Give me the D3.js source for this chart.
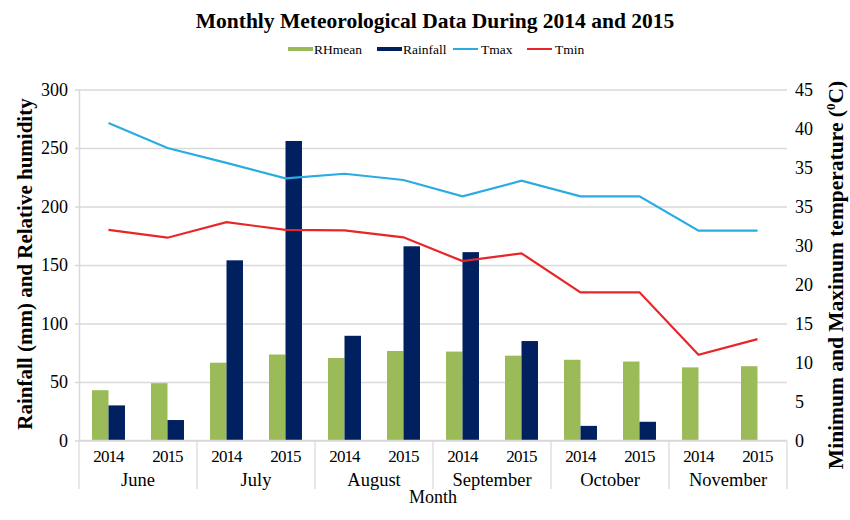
<!DOCTYPE html>
<html>
<head>
<meta charset="utf-8">
<script src="https://cdn.jsdelivr.net/npm/d3@7"></script>
<style>
  body { margin: 0; background: #fff; }
  svg text { font-family: "Liberation Serif", "Times New Roman", serif; fill: #000; }
</style>
</head>
<body>
<script>
// data
var months = ['June', 'July', 'August', 'September', 'October', 'November'];
var years = ['2014', '2015'];
var rhMean = [43, 49, 66.5, 73.5, 70.5, 76.5, 76, 72.5, 69, 67.5, 62.5, 63.5];
var rainfall = [30, 17.5, 154, 256, 89.5, 166, 161, 85, 12.5, 16, 0, 0];
var tMax = [40.7, 37.5, 35.6, 33.6, 34.2, 33.4, 31.3, 33.3, 31.3, 31.3, 26.9, 26.9];
var tMin = [27.0, 26.0, 28.0, 27.0, 26.95, 26.05, 23.0, 24.0, 19.0, 19.0, 11.0, 13.0];
var leftTicks = [0, 50, 100, 150, 200, 250, 300];
var rightTickLabels = ['0', '5', '10', '15', '20', '30', '35', '35', '40', '45'];

var W = 850, H = 520;
var mLeft = 79, mRight = 787, mTop = 89.5, mBottom = 440.5;
var serif = '"Liberation Serif", "Times New Roman", serif';

var svg = d3.select('body').append('svg')
  .attr('width', W)
  .attr('height', H)
  .attr('font-family', serif);

var keys = [];
months.forEach(function(m) { years.forEach(function(y) { keys.push(m + '|' + y); }); });

var rows = keys.map(function(k, i) {
  return { key: k, month: k.split('|')[0], year: k.split('|')[1],
           RHmean: rhMean[i], Rainfall: rainfall[i], Tmax: tMax[i], Tmin: tMin[i] };
});

var x = d3.scaleBand().domain(keys).range([mLeft, mRight]).padding(0);
var xm = d3.scaleBand().domain(months).range([mLeft, mRight]).padding(0);
var xs = d3.scaleBand().domain(['RHmean', 'Rainfall']).range([0, x.bandwidth()])
  .paddingInner(0).paddingOuter(0.79);

var y = d3.scaleLinear().domain([0, 300]).range([mBottom, mTop]);
var yR = d3.scaleLinear().domain([0, 45]).range([mBottom, mTop]);

var colors = { RHmean: '#9bbb59', Rainfall: '#002060', Tmax: '#2aabe2', Tmin: '#e8262a' };

// gridlines + left axis
var gl = svg.append('g').attr('transform', 'translate(' + mLeft + ',0)')
  .call(d3.axisLeft(y).tickValues(leftTicks).tickSize(4).tickSizeOuter(0).tickPadding(7))
  .attr('font-family', serif).attr('font-size', 18);
gl.select('.domain').attr('stroke', '#d9d9d9').attr('stroke-width', 1.5);
gl.selectAll('.tick line').attr('stroke', '#d9d9d9').attr('stroke-width', 1.5)
  .attr('x1', -4).attr('x2', mRight - mLeft);

// right axis labels
var gr = svg.append('g').attr('transform', 'translate(' + mRight + ',0)')
  .call(d3.axisRight(yR).tickValues(d3.range(0, 46, 5))
    .tickFormat(function(d, i) { return rightTickLabels[i]; })
    .tickSize(0).tickPadding(8))
  .attr('font-family', serif).attr('font-size', 18);
gr.select('.domain').remove();

// bars
var groups = svg.append('g').selectAll('g').data(rows).enter().append('g')
  .attr('transform', function(d) { return 'translate(' + x(d.key) + ',0)'; });
groups.selectAll('rect')
  .data(function(d) { return ['RHmean', 'Rainfall'].map(function(s) { return { s: s, v: d[s] }; }); })
  .enter().append('rect')
  .attr('x', function(d) { return xs(d.s); })
  .attr('width', xs.bandwidth())
  .attr('y', function(d) { return y(d.v); })
  .attr('height', function(d) { return mBottom - y(d.v); })
  .attr('fill', function(d) { return colors[d.s]; });

// lines
['Tmax', 'Tmin'].forEach(function(s) {
  var line = d3.line()
    .x(function(d) { return x(d.key) + x.bandwidth() / 2; })
    .y(function(d) { return yR(d[s]); });
  svg.append('path').datum(rows)
    .attr('d', line)
    .attr('fill', 'none')
    .attr('stroke', colors[s])
    .attr('stroke-width', 2.2);
});

// x axis: base line, years, months
svg.append('line').attr('x1', mLeft).attr('x2', mRight).attr('y1', mBottom).attr('y2', mBottom)
  .attr('stroke', '#d9d9d9').attr('stroke-width', 1.5);

svg.append('g').selectAll('text').data(rows).enter().append('text')
  .attr('x', function(d) { return x(d.key) + x.bandwidth() / 2; })
  .attr('y', 461.5)
  .attr('text-anchor', 'middle')
  .style('font-size', '17px')
  .style('letter-spacing', '-0.9px')
  .text(function(d) { return d.year; });

svg.append('g').selectAll('line').data(d3.range(months.length + 1)).enter().append('line')
  .attr('x1', function(i) { return mLeft + i * xm.step(); })
  .attr('x2', function(i) { return mLeft + i * xm.step(); })
  .attr('y1', mBottom)
  .attr('y2', 489)
  .attr('stroke', '#d9d9d9')
  .attr('stroke-width', 1.2);

svg.append('g').selectAll('text').data(months).enter().append('text')
  .attr('x', function(d) { return xm(d) + xm.bandwidth() / 2; })
  .attr('y', 486)
  .attr('text-anchor', 'middle')
  .style('font-size', '18.5px')
  .text(function(d) { return d; });

svg.append('text').attr('x', 433).attr('y', 503).attr('text-anchor', 'middle')
  .style('font-size', '18px').text('Month');

// title
svg.append('text').attr('x', 435).attr('y', 28).attr('text-anchor', 'middle')
  .style('font-size', '21.5px').style('font-weight', 'bold')
  .text('Monthly Meteorological Data During 2014 and 2015');

// axis titles
svg.append('text')
  .attr('transform', 'translate(32,264) rotate(-90)')
  .attr('text-anchor', 'middle')
  .style('font-size', '21px').style('font-weight', 'bold')
  .text('Rainfall (mm) and Relative humidity');

var rt = svg.append('text')
  .attr('transform', 'translate(843,275) rotate(-90)')
  .attr('text-anchor', 'middle')
  .style('font-size', '21.5px').style('font-weight', 'bold');
rt.append('tspan').text('Minimum and Maxinum temperature (');
rt.append('tspan').attr('dy', -8).style('font-size', '13px').text('0');
rt.append('tspan').attr('dy', 8).text('C)');

// legend
var legend = [
  { name: 'RHmean', type: 'bar', x: 288 },
  { name: 'Rainfall', type: 'bar', x: 377 },
  { name: 'Tmax', type: 'line', x: 453 },
  { name: 'Tmin', type: 'line', x: 527 }
];
var lg = svg.append('g').selectAll('g').data(legend).enter().append('g')
  .attr('transform', function(d) { return 'translate(' + d.x + ',49)'; });
lg.append('rect')
  .attr('x', 0)
  .attr('y', function(d) { return d.type === 'bar' ? -2 : -1; })
  .attr('width', 25)
  .attr('height', function(d) { return d.type === 'bar' ? 4 : 2; })
  .attr('fill', function(d) { return colors[d.name]; });
lg.append('text')
  .attr('x', function(d) { return d.type === 'bar' ? 26 : 28; })
  .attr('y', 5)
  .style('font-size', '13.5px')
  .text(function(d) { return d.name; });
</script>
</body>
</html>
